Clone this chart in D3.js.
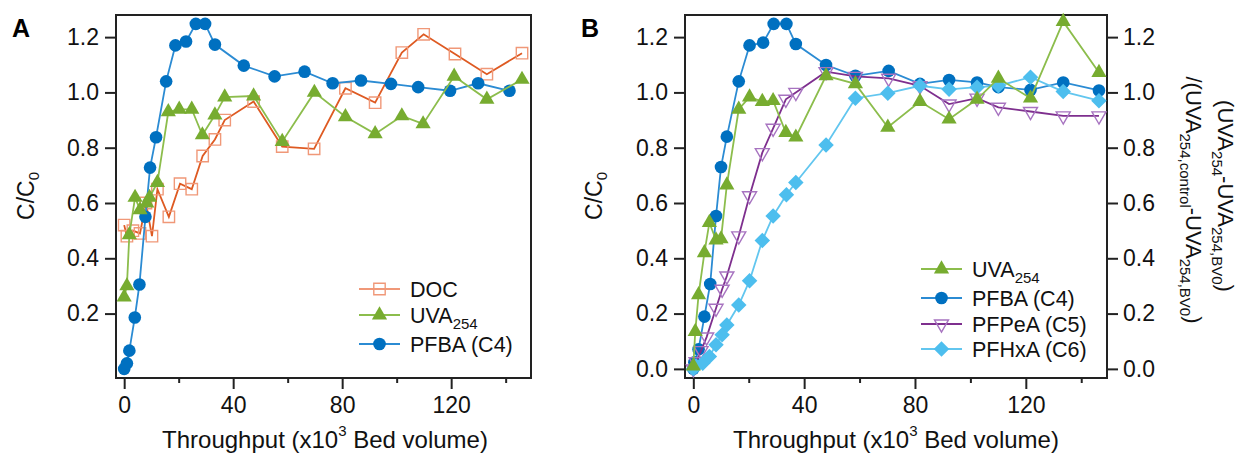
<!DOCTYPE html>
<html>
<head>
<meta charset="utf-8">
<script src="https://cdn.jsdelivr.net/npm/d3@7"></script>
<style>
  body { margin: 0; background: #fff; }
  svg { display: block; font-family: "Liberation Sans", Arial, sans-serif; }
  .tick text { font-size: 23px; fill: #111; }
</style>
</head>
<body>
<div id="chart"></div>
<script>
// ---- panel A data ----
const docX  = [0, 1, 3.2, 5.8, 8, 10.2, 12.2, 16.4, 20.5, 24.8, 28.8, 33.3, 36.9, 47.5, 58, 69.7, 81.2, 92.1, 101.9, 109.9, 121.4, 133.1, 146];
const docY  = [0.52, 0.48, 0.5, 0.49, 0.6, 0.48, 0.65, 0.55, 0.67, 0.65, 0.77, 0.83, 0.9, 0.967, 0.804, 0.796, 1.015, 0.963, 1.144, 1.21, 1.139, 1.066, 1.142];
const uvaAX = [0, 1, 1.9, 4, 5.8, 8.3, 9.3, 12.2, 16.2, 20.2, 24.8, 28.7, 33.3, 36.9, 47.5, 58, 69.8, 81.2, 92.1, 101.9, 109.7, 121.1, 133.1, 146];
const uvaAY = [0.26, 0.3, 0.485, 0.62, 0.575, 0.6, 0.62, 0.674, 0.93, 0.939, 0.939, 0.846, 0.918, 0.983, 0.987, 0.822, 1.0, 0.912, 0.85, 0.915, 0.886, 1.058, 0.975, 1.047];
const pfbaAX = [0, 1, 1.9, 3.9, 5.6, 7.8, 9.5, 11.7, 15.4, 18.8, 22.7, 26.3, 29.7, 33.3, 43.9, 55.2, 66.2, 76.5, 86.9, 97.9, 107.9, 119.6, 129.9, 141.4];
const pfbaAY = [0.0, 0.02, 0.066, 0.186, 0.305, 0.55, 0.728, 0.838, 1.04, 1.17, 1.184, 1.248, 1.248, 1.173, 1.097, 1.058, 1.075, 1.033, 1.043, 1.031, 1.019, 1.006, 1.033, 1.006];

// ---- panel B data ----
const uvaBX = [0, 0.7, 1.9, 4, 5.8, 8.2, 10, 12.1, 16.4, 20.3, 24.9, 28.8, 33.4, 37, 47.9, 58.5, 70.2, 81.8, 92.3, 102.4, 110.1, 121.7, 133.5, 146.4];
const uvaBY = [0.01, 0.135, 0.268, 0.42, 0.529, 0.466, 0.47, 0.665, 0.939, 0.983, 0.967, 0.97, 0.855, 0.838, 1.06, 1.031, 0.874, 0.967, 0.903, 0.975, 1.051, 0.979, 1.256, 1.072];
const pfbaBX = [0, 0.4, 1.9, 4, 6.1, 8.2, 10, 12.1, 16.4, 20.3, 25.2, 29, 33.6, 37, 47.9, 58.5, 70.5, 81.8, 92.3, 102.4, 110.1, 121.7, 133.5, 146.4];
const pfbaBY = [0.0, 0.024, 0.071, 0.189, 0.307, 0.553, 0.73, 0.84, 1.04, 1.17, 1.18, 1.248, 1.248, 1.175, 1.099, 1.06, 1.078, 1.031, 1.045, 1.036, 1.019, 1.009, 1.036, 1.007];
const pfpeaX = [0, 1, 2.8, 4.8, 8.2, 10.4, 12.1, 16.4, 20.3, 24.9, 28.8, 33.4, 37, 47.9, 58.5, 70.5, 81.8, 92.3, 102.4, 110.1, 121.7, 133.5, 146.4];
const pfpeaY = [0.0, 0.026, 0.066, 0.115, 0.219, 0.288, 0.336, 0.481, 0.626, 0.782, 0.87, 0.975, 1.0, 1.075, 1.058, 1.051, 1.024, 0.958, 0.979, 0.946, 0.931, 0.915, 0.915];
const pfhxaX = [0, 1, 3.4, 5.8, 8.2, 10.4, 12.1, 16.4, 20.3, 24.9, 28.8, 33.6, 37, 47.9, 58.5, 70.2, 81.8, 92.3, 102.4, 110.1, 121.7, 133.5, 146.4];
const pfhxaY = [0.0, 0.01, 0.02, 0.045, 0.087, 0.123, 0.159, 0.231, 0.319, 0.464, 0.553, 0.63, 0.674, 0.81, 0.979, 0.997, 1.024, 1.011, 1.019, 1.024, 1.055, 1.003, 0.97];

const xMajor = [0, 40, 80, 120];
const xMinor = [20, 60, 100, 140];
const yTicksA = [0.2, 0.4, 0.6, 0.8, 1.0, 1.2];
const yTicksB = [0.0, 0.2, 0.4, 0.6, 0.8, 1.0, 1.2];

const blue = '#0070C0', blueLine = '#2b8bd3';
const green = '#77AC30', greenLine = '#8cbd4c';
const orange = '#DE5A22', orangeMark = '#F09878';
const purple = '#7E2F8E', purpleMark = '#A773C0';
const sky = '#4DBEEE', skyLine = '#62c6ef';

const W = 1241, H = 453;
const plotTop = 15, plotBottom = 378;
const svg = d3.select('#chart').append('svg').attr('width', W).attr('height', H);

const y = d3.scaleLinear().domain([-0.033, 1.28]).range([plotBottom, plotTop]);
const xA = d3.scaleLinear().domain([-3, 149.3]).range([116, 531]);
const xB = d3.scaleLinear().domain([-3, 149.3]).range([685, 1107]);

const zip = (xs, ys) => xs.map((v, i) => [v, ys[i]]);

const symbols = {
  circle:   { type: d3.symbolCircle,   size: 125, rot: 0 },
  triangle: { type: d3.symbolTriangle, size: 100, rot: 0 },
  down:     { type: d3.symbolTriangle, size: 85,  rot: 180 },
  square:   { type: d3.symbolSquare,   size: 130, rot: 0 },
  diamond:  { type: d3.symbolSquare,   size: 120, rot: 45 }
};

function symbolMark(g, kind, cx, cy, fill, stroke) {
  const s = symbols[kind];
  g.append('path')
    .attr('d', d3.symbol().type(s.type).size(s.size)())
    .attr('transform', `translate(${cx},${cy}) rotate(${s.rot})`)
    .attr('fill', fill)
    .attr('stroke', stroke)
    .attr('stroke-width', stroke === 'none' ? 0 : 1.4);
}

function series(g, x, pts, opt) {
  g.append('path')
    .datum(pts)
    .attr('fill', 'none')
    .attr('stroke', opt.line)
    .attr('stroke-width', 1.8)
    .attr('d', d3.line().x(d => x(d[0])).y(d => y(d[1])));
  pts.forEach(d => symbolMark(g, opt.kind, x(d[0]), y(d[1]), opt.fill, opt.stroke));
}

function frame(x, yTicks) {
  const g = svg.append('g');
  const [x0, x1] = x.range();
  g.append('rect')
    .attr('x', x0).attr('y', plotTop)
    .attr('width', x1 - x0).attr('height', plotBottom - plotTop)
    .attr('fill', 'none').attr('stroke', '#222').attr('stroke-width', 2);

  const major = g.append('g').attr('transform', `translate(0,${plotBottom})`)
    .call(d3.axisBottom(x).tickValues(xMajor).tickSize(11).tickPadding(8).tickFormat(d3.format('d')));
  const minor = g.append('g').attr('transform', `translate(0,${plotBottom})`)
    .call(d3.axisBottom(x).tickValues(xMinor).tickSize(5).tickFormat(''));
  const left = g.append('g').attr('transform', `translate(${x0},0)`)
    .call(d3.axisLeft(y).tickValues(yTicks).tickSize(11).tickPadding(6).tickFormat(d3.format('.1f')));
  [major, minor, left].forEach(a => {
    a.select('.domain').remove();
    a.selectAll('line').attr('stroke', '#222').attr('stroke-width', 2);
  });
  return g;
}

function xTitle(cx) {
  const t = svg.append('text')
    .attr('x', cx).attr('y', 448)
    .attr('text-anchor', 'middle')
    .attr('font-size', 24).attr('fill', '#111');
  t.append('tspan').text('Throughput (x10');
  t.append('tspan').attr('dy', -12).attr('font-size', 15).text('3');
  t.append('tspan').attr('dy', 12).text(' Bed volume)');
}

function yTitle(bx) {
  const t = svg.append('text')
    .attr('transform', `translate(${bx},196) rotate(-90)`)
    .attr('text-anchor', 'middle')
    .attr('font-size', 23).attr('fill', '#111');
  t.append('tspan').text('C/C');
  t.append('tspan').attr('dy', 5).attr('font-size', 15).text('0');
}

function legend(x0, rows) {
  const g = svg.append('g');
  rows.forEach(r => {
    g.append('line').attr('x1', x0).attr('x2', x0 + 41).attr('y1', r.y).attr('y2', r.y)
      .attr('stroke', r.line).attr('stroke-width', 1.8);
    symbolMark(g, r.kind, x0 + 20.5, r.y, r.fill, r.stroke);
    const t = g.append('text').attr('x', x0 + 51).attr('y', r.y + 8)
      .attr('font-size', 21.5).attr('fill', '#111');
    if (r.sub) {
      t.append('tspan').text(r.label);
      t.append('tspan').attr('dy', 6).attr('font-size', 15).text(r.sub);
    } else {
      t.text(r.label);
    }
  });
}

// ---- panel A ----
frame(xA, yTicksA);
const gA = svg.append('g');
series(gA, xA, zip(docX, docY), { line: orange, kind: 'square', fill: 'none', stroke: orangeMark });
series(gA, xA, zip(pfbaAX, pfbaAY), { line: blueLine, kind: 'circle', fill: blue, stroke: 'none' });
series(gA, xA, zip(uvaAX, uvaAY), { line: greenLine, kind: 'triangle', fill: green, stroke: 'none' });

legend(359, [
  { y: 289, label: 'DOC', line: orangeMark, kind: 'square', fill: 'none', stroke: orangeMark },
  { y: 315, label: 'UVA', sub: '254', line: greenLine, kind: 'triangle', fill: green, stroke: 'none' },
  { y: 344, label: 'PFBA (C4)', line: blueLine, kind: 'circle', fill: blue, stroke: 'none' }
]);

// ---- panel B ----
const fB = frame(xB, yTicksB);
const right = fB.append('g').attr('transform', `translate(${xB.range()[1]},0)`)
  .call(d3.axisRight(y).tickValues(yTicksB).tickSize(11).tickPadding(5).tickFormat(d3.format('.1f')));
right.select('.domain').remove();
right.selectAll('line').attr('stroke', '#222').attr('stroke-width', 2);

const gB = svg.append('g');
series(gB, xB, zip(pfbaBX, pfbaBY), { line: blueLine, kind: 'circle', fill: blue, stroke: 'none' });
series(gB, xB, zip(pfpeaX, pfpeaY), { line: purple, kind: 'down', fill: 'none', stroke: purpleMark });
series(gB, xB, zip(pfhxaX, pfhxaY), { line: skyLine, kind: 'diamond', fill: sky, stroke: 'none' });
series(gB, xB, zip(uvaBX, uvaBY), { line: greenLine, kind: 'triangle', fill: green, stroke: 'none' });

legend(921, [
  { y: 269, label: 'UVA', sub: '254', line: greenLine, kind: 'triangle', fill: green, stroke: 'none' },
  { y: 298, label: 'PFBA (C4)', line: blueLine, kind: 'circle', fill: blue, stroke: 'none' },
  { y: 324, label: 'PFPeA (C5)', line: purple, kind: 'down', fill: 'none', stroke: purpleMark },
  { y: 349, label: 'PFHxA (C6)', line: skyLine, kind: 'diamond', fill: sky, stroke: 'none' }
]);

// ---- titles ----
xTitle(325);
xTitle(896);
yTitle(34);
yTitle(602);

svg.append('text').attr('x', 12).attr('y', 37).attr('font-size', 25).attr('font-weight', 'bold').text('A');
svg.append('text').attr('x', 581).attr('y', 37).attr('font-size', 25).attr('font-weight', 'bold').text('B');

// right axis label, two rotated lines
const r1 = svg.append('text')
  .attr('transform', 'translate(1218,196) rotate(90)')
  .attr('text-anchor', 'middle').attr('font-size', 22).attr('fill', '#111');
r1.append('tspan').text('(UVA');
r1.append('tspan').attr('dy', 6).attr('font-size', 15).text('254');
r1.append('tspan').attr('dy', -6).text('-UVA');
r1.append('tspan').attr('dy', 6).attr('font-size', 15).text('254,BV0');
r1.append('tspan').attr('dy', -6).text(')');

const r2 = svg.append('text')
  .attr('transform', 'translate(1186,200) rotate(90)')
  .attr('text-anchor', 'middle').attr('font-size', 22).attr('fill', '#111');
r2.append('tspan').text('/(UVA');
r2.append('tspan').attr('dy', 6).attr('font-size', 15).text('254,control');
r2.append('tspan').attr('dy', -6).text('-UVA');
r2.append('tspan').attr('dy', 6).attr('font-size', 15).text('254,BV0');
r2.append('tspan').attr('dy', -6).text(')');
</script>
</body>
</html>
